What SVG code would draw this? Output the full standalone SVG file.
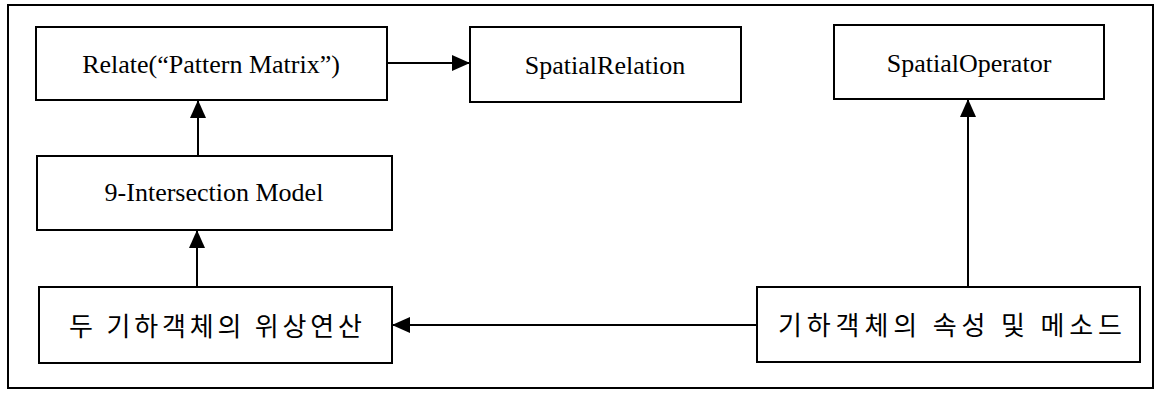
<svg xmlns="http://www.w3.org/2000/svg" width="1160" height="395" viewBox="0 0 1160 395">
<style>
.box{fill:#fff;stroke:#000;stroke-width:2}
.frame{fill:none;stroke:#000;stroke-width:2}
.t{font-family:"Liberation Serif","Times New Roman",serif;font-size:26px;fill:#000;text-anchor:middle}
.k{font-family:"Noto Sans CJK KR","Noto Sans",sans-serif;font-size:26px;fill:#000}
.c{stroke:#000;stroke-width:2;fill:none}
</style>
<defs>
<marker id="a" viewBox="0 0 18 16" refX="18" refY="8" markerWidth="18" markerHeight="16" orient="auto" markerUnits="userSpaceOnUse">
<path d="M0,0 L18,8 L0,16 Z" fill="#000"/>
</marker>
</defs>
<rect class="frame" x="8" y="5" width="1145" height="383"/>
<g id="connectors">
<line class="c" x1="387" y1="63" x2="470" y2="63" marker-end="url(#a)"/>
<line class="c" x1="198" y1="156" x2="198" y2="100" marker-end="url(#a)"/>
<line class="c" x1="197" y1="287" x2="197" y2="230" marker-end="url(#a)"/>
<line class="c" x1="757" y1="325" x2="392" y2="325" marker-end="url(#a)"/>
<line class="c" x1="968" y1="287" x2="968" y2="99" marker-end="url(#a)"/>
</g>
<g id="relate">
<rect class="box" x="36" y="27" width="351" height="73"/>
<text class="t" x="211" y="73">Relate(“Pattern Matrix”)</text>
</g>
<g id="spatialrelation">
<rect class="box" x="470" y="27" width="271" height="75"/>
<text class="t" x="605" y="74">SpatialRelation</text>
</g>
<g id="spatialoperator">
<rect class="box" x="834" y="25" width="270" height="74"/>
<text class="t" x="969" y="72">SpatialOperator</text>
</g>
<g id="nineint">
<rect class="box" x="37" y="156" width="355" height="74"/>
<text class="t" x="214" y="201">9-Intersection Model</text>
</g>
<g id="topo">
<rect class="box" x="39" y="287" width="353" height="76"/>
<text class="k" x="69" y="336" textLength="293" lengthAdjust="spacing">두 기하객체의 위상연산</text>
</g>
<g id="attr">
<rect class="box" x="757" y="287" width="383" height="75"/>
<text class="k" x="778" y="335" textLength="344" lengthAdjust="spacing">기하객체의 속성 및 메소드</text>
</g>
</svg>
